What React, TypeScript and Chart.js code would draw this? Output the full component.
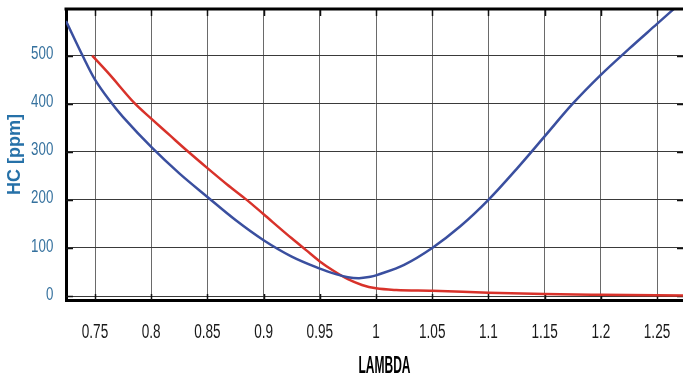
import { useEffect, useRef } from 'react';
import { Chart, registerables } from 'chart.js';

Chart.register(...registerables);

// Blue curve: HC emissions vs. lambda
const blueLambda = [0.7242, 0.74, 0.75, 0.7625, 0.775, 0.8, 0.825, 0.85, 0.875, 0.9, 0.925, 0.95, 0.965, 0.975, 0.985, 0.995, 1.0, 1.025, 1.05, 1.075, 1.1, 1.125, 1.15, 1.175, 1.2, 1.225, 1.25, 1.275];
const blueHC = [572, 495, 450, 408, 372, 310, 255, 206, 158, 116, 82, 57, 45, 39, 37, 40, 43, 65, 100, 145, 200, 264, 332, 400, 460, 514, 566, 618];

// Red curve: HC emissions vs. lambda
const redLambda = [0.7475, 0.7625, 0.7856, 0.8, 0.8167, 0.833, 0.85, 0.8675, 0.885, 0.9, 0.925, 0.9375, 0.95, 0.9625, 0.975, 0.9875, 1.0, 1.018, 1.05, 1.1, 1.15, 1.2, 1.275];
const redHC = [500, 462, 400, 369, 334, 300, 266, 232, 200, 170, 120, 96, 72, 52, 35, 23, 16, 12.5, 11, 7, 4, 2.5, 1];

// Axis ticks
const lambdaTicks = [0.75, 0.8, 0.85, 0.9, 0.95, 1, 1.05, 1.1, 1.15, 1.2, 1.25];
const lambdaTickLabels = ['0.75', '0.8', '0.85', '0.9', '0.95', '1', '1.05', '1.1', '1.15', '1.2', '1.25'];
const hcTicks = [0, 100, 200, 300, 400, 500];
const hcTickLabels = ['0', '100', '200', '300', '400', '500'];
const xTitle = 'LAMBDA';
const yTitle = 'HC [ppm]';

const sans = '"Liberation Sans", Arial, sans-serif';

// Draws text squeezed horizontally (condensed look)
function condensedText(ctx: CanvasRenderingContext2D, text: string, x: number, y: number, sx: number) {
  ctx.save();
  ctx.translate(x, y);
  ctx.scale(sx, 1);
  ctx.fillText(text, 0, 0);
  ctx.restore();
}

// Short tick marks inside the frame, the heavy top edge and condensed labels
const framePlugin = {
  id: 'frame',
  beforeDatasetsDraw(chart: any) {
    const { ctx, chartArea, scales } = chart;
    const { left, right, top, bottom } = chartArea;
    ctx.save();
    ctx.strokeStyle = '#111';
    ctx.lineWidth = 1.5;
    ctx.beginPath();
    scales.x.ticks.forEach((t: any) => {
      const px = Math.round(scales.x.getPixelForValue(t.value)) + 0.5;
      ctx.moveTo(px, top);
      ctx.lineTo(px, top + 7);
      ctx.moveTo(px, bottom);
      ctx.lineTo(px, bottom - 6);
    });
    scales.y.ticks.forEach((t: any) => {
      const py = Math.round(scales.y.getPixelForValue(t.value)) + 0.5;
      ctx.moveTo(left, py);
      ctx.lineTo(left + 7, py);
      ctx.moveTo(right, py);
      ctx.lineTo(right - 6, py);
    });
    ctx.stroke();
    ctx.restore();
  },
  afterDatasetsDraw(chart: any) {
    const { ctx, chartArea, scales } = chart;
    ctx.save();
    ctx.strokeStyle = '#000';
    ctx.lineWidth = 3;
    ctx.beginPath();
    ctx.moveTo(chartArea.left - 1.5, chartArea.top);
    ctx.lineTo(chartArea.right, chartArea.top);
    ctx.stroke();

    // x tick labels
    ctx.textBaseline = 'alphabetic';
    ctx.textAlign = 'center';
    ctx.fillStyle = '#1a1a1a';
    ctx.font = `20px ${sans}`;
    scales.x.ticks.forEach((t: any, i: number) => {
      const px = scales.x.getPixelForValue(t.value);
      condensedText(ctx, lambdaTickLabels[i], px, chartArea.bottom + 37.5, 0.68);
    });

    // y tick labels
    ctx.textAlign = 'right';
    ctx.fillStyle = '#35719e';
    ctx.font = `17.5px ${sans}`;
    scales.y.ticks.forEach((t: any, i: number) => {
      const py = scales.y.getPixelForValue(t.value);
      condensedText(ctx, hcTickLabels[i], chartArea.left - 12.7, py + 3.6, 0.76);
    });

    // x axis title
    ctx.textAlign = 'center';
    ctx.fillStyle = '#000';
    ctx.font = `bold 24.5px ${sans}`;
    condensedText(ctx, xTitle, (chartArea.left + chartArea.right) / 2 + 10, chartArea.bottom + 73, 0.49);
    ctx.restore();
  },
};

export default function App() {
  const canvasRef = useRef<HTMLCanvasElement | null>(null);

  useEffect(() => {
    if (!canvasRef.current) return;
    const chart = new Chart(canvasRef.current, {
      type: 'line',
      data: {
        datasets: [
          {
            label: 'HC blue',
            data: blueLambda.map((x, i) => ({ x, y: blueHC[i] })),
            borderColor: '#3a4f9f',
            borderWidth: 2.5,
            pointRadius: 0,
            tension: 0.35,
            fill: false,
          },
          {
            label: 'HC red',
            data: redLambda.map((x, i) => ({ x, y: redHC[i] })),
            borderColor: '#d8322a',
            borderWidth: 2.5,
            pointRadius: 0,
            cubicInterpolationMode: 'monotone',
            fill: false,
          },
        ],
      },
      options: {
        animation: false,
        responsive: false,
        layout: { padding: { top: 9, right: 0, left: 0, bottom: 0 } },
        plugins: {
          legend: { display: false },
          tooltip: { enabled: false },
        },
        scales: {
          x: {
            type: 'linear',
            min: 0.7242,
            max: 1.2731,
            afterBuildTicks: (s: any) => {
              s.ticks = lambdaTicks.map((v) => ({ value: v }));
            },
            afterFit: (s: any) => {
              s.height = 78;
              s.paddingLeft = 0;
              s.paddingRight = 0;
            },
            ticks: { display: false },
            grid: { color: '#6a6a6a', lineWidth: 1, drawTicks: false },
            border: { display: true, color: '#000', width: 3 },
          },
          y: {
            type: 'linear',
            min: -8.3,
            max: 597,
            afterBuildTicks: (s: any) => {
              s.ticks = hcTicks.map((v) => ({ value: v }));
            },
            afterFit: (s: any) => {
              s.width = 66;
              s.paddingTop = 0;
              s.paddingBottom = 0;
            },
            ticks: { display: false },
            grid: { color: '#3a3a3a', lineWidth: 1, drawTicks: false },
            border: { display: true, color: '#000', width: 3 },
            title: {
              display: true,
              text: yTitle,
              color: '#2671a8',
              font: { family: sans, size: 18, weight: 'bold' },
              padding: { top: 4, bottom: 0 },
            },
          },
        },
      },
      plugins: [framePlugin],
    } as any);
    return () => chart.destroy();
  }, []);

  return (
    <div style={{ position: 'absolute', left: 0, top: 0, width: 683, height: 378, background: '#fff' }}>
      <canvas ref={canvasRef} width={683} height={378} style={{ display: 'block' }} />
    </div>
  );
}
